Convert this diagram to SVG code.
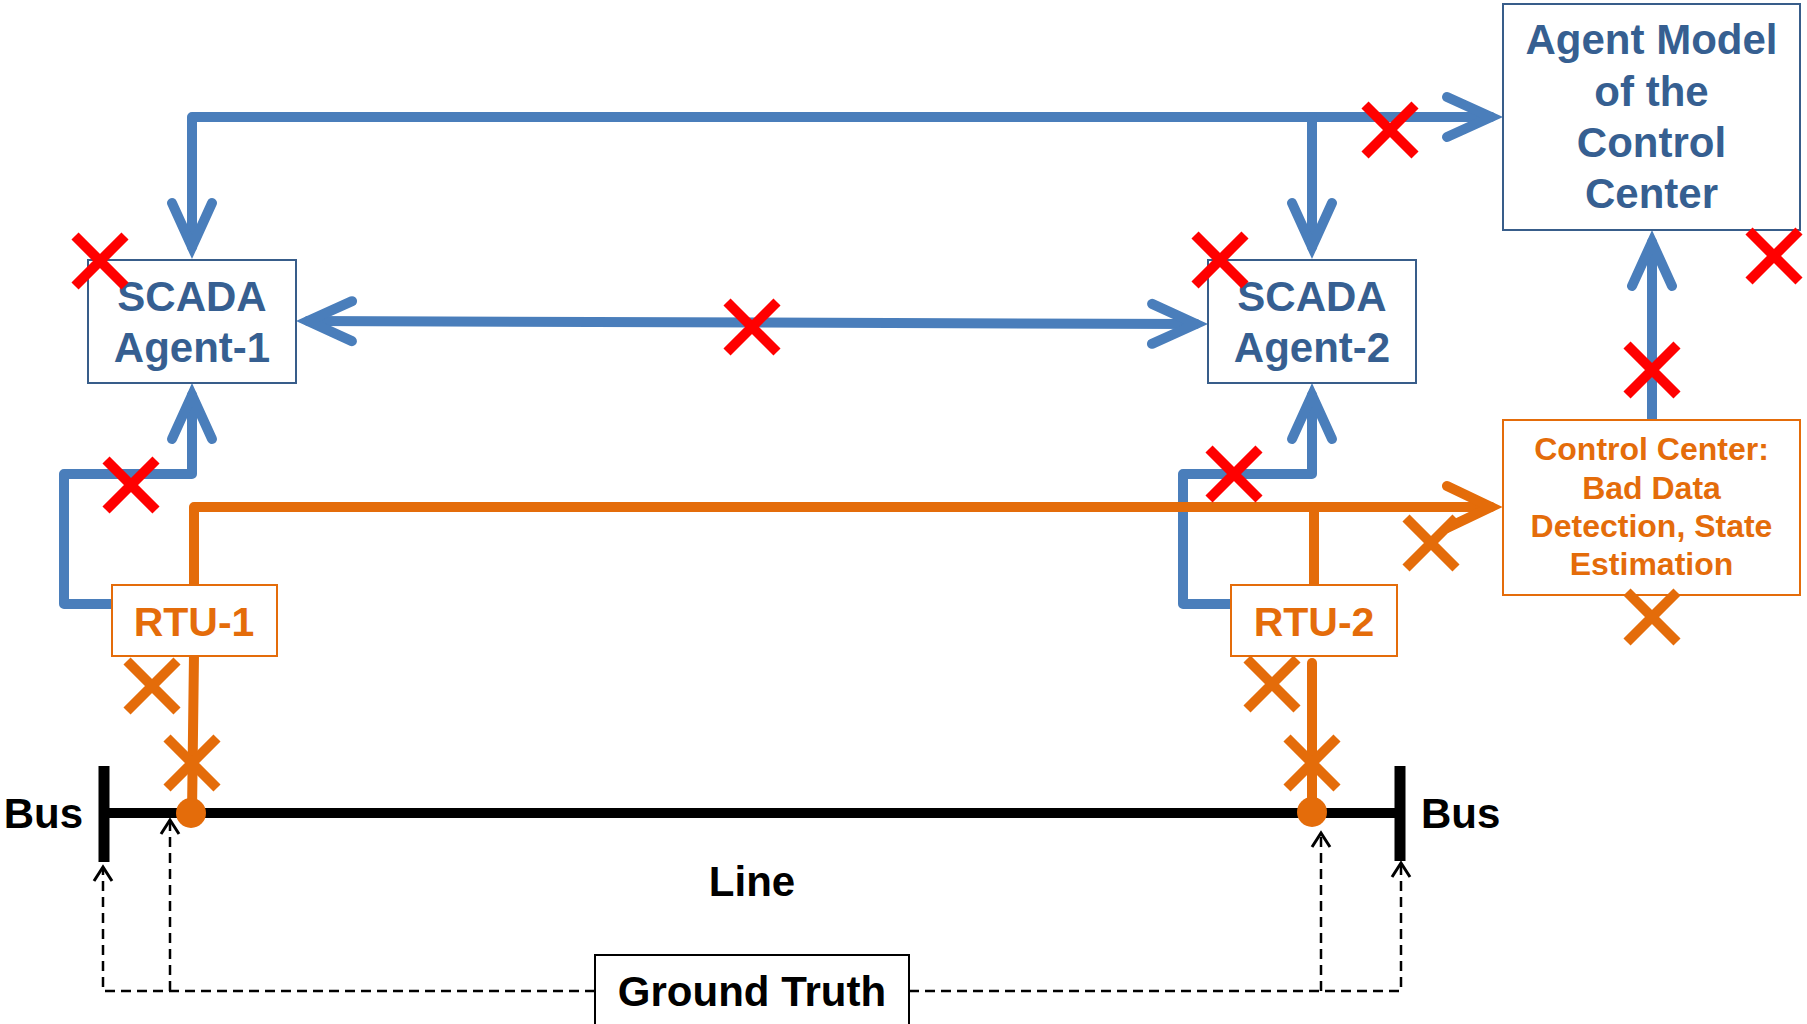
<svg xmlns="http://www.w3.org/2000/svg" width="1807" height="1024" viewBox="0 0 1807 1024">
  <style>
    .lbl { font-family: "Liberation Sans", Arial, sans-serif; font-weight: bold; text-anchor: middle; }
    .blueTxt { fill: #365F91; font-size: 42px; }
    .orTxt { fill: #E46C0A; }
    .blkTxt { fill: #000000; font-size: 42px; }
    .boxB { fill: #FFFFFF; stroke: #385D8A; stroke-width: 2; }
    .boxO { fill: #FFFFFF; stroke: #E46C0A; stroke-width: 2; }
    .wireB { fill: none; stroke: #4A7EBB; stroke-width: 10; stroke-linejoin: round; stroke-linecap: round; }
    .wireO { fill: none; stroke: #E46C0A; stroke-width: 10; stroke-linejoin: round; stroke-linecap: round; }
    .dash { fill: none; stroke: #000000; stroke-width: 2.5; stroke-dasharray: 10 6; }
    .xr { fill: none; stroke: #FF0000; stroke-width: 10; }
    .xo { fill: none; stroke: #E46C0A; stroke-width: 10; }
  </style>
  <defs>
    <marker id="arrB" markerUnits="userSpaceOnUse" orient="auto-start-reverse" overflow="visible" viewBox="-60 -30 80 60" markerWidth="80" markerHeight="60" refX="0" refY="0">
      <path d="M-44,-20 L0,0 L-44,20" fill="none" stroke="#4A7EBB" stroke-width="10" stroke-linecap="round" stroke-linejoin="miter"/>
    </marker>
    <marker id="arrO" markerUnits="userSpaceOnUse" orient="auto" overflow="visible" viewBox="-60 -30 80 60" markerWidth="80" markerHeight="60" refX="0" refY="0">
      <path d="M-44,-21 L0,0 L-44,21" fill="none" stroke="#E46C0A" stroke-width="10" stroke-linecap="round" stroke-linejoin="miter"/>
    </marker>
    <marker id="arrD" markerUnits="userSpaceOnUse" orient="auto" overflow="visible" viewBox="-20 -12 30 24" markerWidth="30" markerHeight="24" refX="0" refY="0">
      <path d="M-14,-9 L0,0 L-14,9" fill="none" stroke="#000000" stroke-width="3"/>
    </marker>
    <path id="cross" d="M-25,-25 L25,25 M25,-25 L-25,25"/>
  </defs>

  <!-- power line and buses -->
  <g id="grid">
    <path d="M104,813 H1400" stroke="#000000" stroke-width="10"/>
    <path d="M104,766 V862" stroke="#000000" stroke-width="11"/>
    <path d="M1400,766 V861" stroke="#000000" stroke-width="11"/>
    <text class="lbl blkTxt" x="83" y="828" style="text-anchor:end">Bus</text>
    <text class="lbl blkTxt" x="1421" y="828" style="text-anchor:start">Bus</text>
    <text class="lbl blkTxt" x="752" y="896">Line</text>
  </g>

  <g id="connectors">
    <!-- communication links -->
    <path class="wireB" d="M192,247 V117 H1491" marker-start="url(#arrB)" marker-end="url(#arrB)"/>
    <path class="wireB" d="M1312,117 V247" marker-end="url(#arrB)"/>
    <path class="wireB" d="M308,321 L1196,324" marker-start="url(#arrB)" marker-end="url(#arrB)"/>
    <path class="wireB" d="M112,604 H64 V474 H192 V395" marker-end="url(#arrB)"/>
    <path class="wireB" d="M1231,604 H1183 V474 H1312 V395" marker-end="url(#arrB)"/>
    <path class="wireB" d="M1652,420 V242" marker-end="url(#arrB)"/>
    <!-- measurement links -->
    <path class="wireO" d="M194,585 V507 H1491" marker-end="url(#arrO)"/>
    <path class="wireO" d="M1314,585 V507"/>
    <path class="wireO" d="M194,654 L192,813" stroke-width="8"/>
    <path class="wireO" d="M1312,663 V813" stroke-width="8"/>
    <circle cx="191" cy="813" r="15" fill="#E46C0A"/>
    <circle cx="1312" cy="812" r="15" fill="#E46C0A"/>
    <!-- ground truth references -->
    <path class="dash" d="M595,991 H103 V867" marker-end="url(#arrD)"/>
    <path class="dash" d="M170,991 V820" marker-end="url(#arrD)"/>
    <path class="dash" d="M909,991 H1401 V863" marker-end="url(#arrD)"/>
    <path class="dash" d="M1321,991 V833" marker-end="url(#arrD)"/>
  </g>

  <g id="agentModel">
    <rect class="boxB" x="1503" y="4" width="297" height="226"/>
    <text class="lbl blueTxt" x="1651.5" y="54">Agent Model</text>
    <text class="lbl blueTxt" x="1651.5" y="106">of the</text>
    <text class="lbl blueTxt" x="1651.5" y="157">Control</text>
    <text class="lbl blueTxt" x="1651.5" y="208">Center</text>
  </g>

  <g id="scada1">
    <rect class="boxB" x="88" y="260" width="208" height="123"/>
    <text class="lbl blueTxt" x="192" y="311">SCADA</text>
    <text class="lbl blueTxt" x="192" y="362">Agent-1</text>
  </g>

  <g id="scada2">
    <rect class="boxB" x="1208" y="260" width="208" height="123"/>
    <text class="lbl blueTxt" x="1312" y="311">SCADA</text>
    <text class="lbl blueTxt" x="1312" y="362">Agent-2</text>
  </g>

  <g id="rtu1">
    <rect class="boxO" x="112" y="585" width="165" height="71"/>
    <text class="lbl orTxt" x="194" y="636" font-size="41">RTU-1</text>
  </g>

  <g id="rtu2">
    <rect class="boxO" x="1231" y="585" width="166" height="71"/>
    <text class="lbl orTxt" x="1314" y="636" font-size="41">RTU-2</text>
  </g>

  <g id="controlCenter">
    <rect class="boxO" x="1503" y="420" width="297" height="175"/>
    <text class="lbl orTxt" x="1651.5" y="460" font-size="32">Control Center:</text>
    <text class="lbl orTxt" x="1651.5" y="499" font-size="32">Bad Data</text>
    <text class="lbl orTxt" x="1651.5" y="537" font-size="32">Detection, State</text>
    <text class="lbl orTxt" x="1651.5" y="575" font-size="32">Estimation</text>
  </g>

  <g id="groundTruth">
    <rect x="595" y="955" width="314" height="90" fill="#FFFFFF" stroke="#000000" stroke-width="2"/>
    <text class="lbl blkTxt" x="752" y="1006">Ground Truth</text>
  </g>

  <!-- attack markers on links -->
  <g id="attacks">
    <use href="#cross" class="xr" x="100" y="261"/>
    <use href="#cross" class="xr" x="1220" y="260"/>
    <use href="#cross" class="xr" x="1390" y="130"/>
    <use href="#cross" class="xr" x="1774" y="256"/>
    <use href="#cross" class="xr" x="1652" y="370"/>
    <use href="#cross" class="xr" x="752" y="327"/>
    <use href="#cross" class="xr" x="131" y="485"/>
    <use href="#cross" class="xr" x="1234" y="474"/>
    <use href="#cross" class="xo" x="152" y="686"/>
    <use href="#cross" class="xo" x="192" y="763"/>
    <use href="#cross" class="xo" x="1272" y="684"/>
    <use href="#cross" class="xo" x="1312" y="763"/>
    <use href="#cross" class="xo" x="1431" y="543"/>
    <use href="#cross" class="xo" x="1652" y="617"/>
  </g>
</svg>
